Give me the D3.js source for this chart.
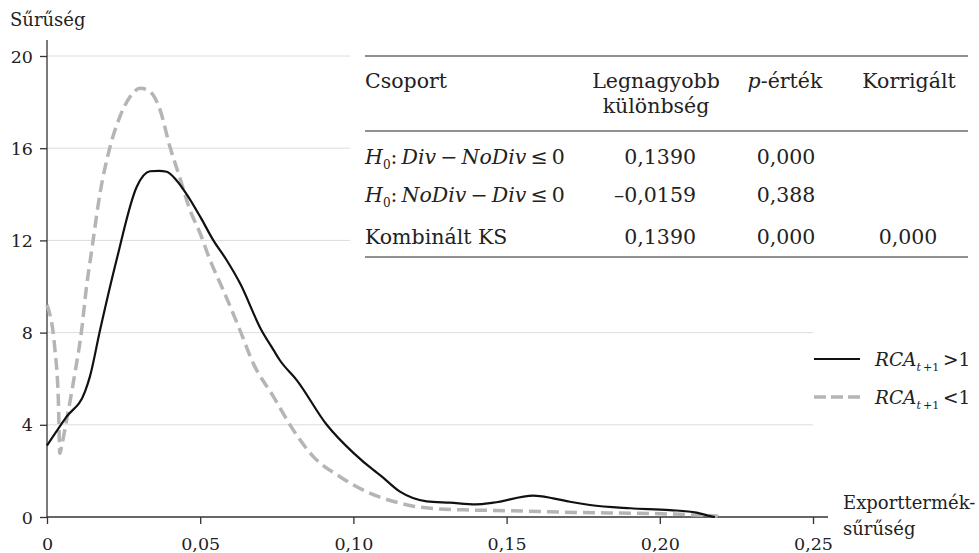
<!DOCTYPE html>
<html><head><meta charset="utf-8">
<script src="https://cdn.jsdelivr.net/npm/d3@7"></script>
<style>body{margin:0;background:#fff}svg{display:block}text{font-family:"DejaVu Serif",serif;fill:#222}</style>
</head><body><svg id="c" width="979" height="553"></svg>
<script>
// Data
const xRCAgt1 = [0, 0.0064, 0.0124, 0.014, 0.0173, 0.0227, 0.0293, 0.0336, 0.0365, 0.0391, 0.0423, 0.0456, 0.05, 0.0543, 0.0586, 0.063, 0.070, 0.0739, 0.076, 0.0815, 0.0913, 0.100, 0.1065, 0.1087, 0.1152, 0.1239, 0.1315, 0.140, 0.1457, 0.1587, 0.1652, 0.1707, 0.1772, 0.1903, 0.2033, 0.212, 0.2164, 0.218];
const yRCAgt1 = [3.1, 4.35, 5.44, 6.09, 8.1, 11.15, 14.33, 15.0, 15.02, 14.98, 14.6, 14.0, 13.03, 12.0, 11.15, 10.14, 8.1, 7.25, 6.8, 5.94, 4.0, 2.78, 2.04, 1.82, 1.1, 0.68, 0.62, 0.55, 0.62, 0.93, 0.81, 0.66, 0.52, 0.38, 0.30, 0.19, 0.04, 0.0];
const xRCAlt1 = [0, 0.0026, 0.0037, 0.0042, 0.0048, 0.007, 0.0091, 0.0113, 0.0129, 0.0146, 0.0173, 0.0206, 0.0238, 0.0271, 0.0304, 0.0336, 0.0369, 0.0401, 0.0434, 0.0467, 0.05, 0.0532, 0.0575, 0.063, 0.0673, 0.0739, 0.0804, 0.0869, 0.0956, 0.1043, 0.1087, 0.1141, 0.1196, 0.127, 0.1359, 0.152, 0.1718, 0.2033, 0.2186, 0.219];
const yRCAlt1 = [9.2, 7.25, 5.08, 2.76, 3.1, 4.64, 6.23, 8.1, 10.0, 11.58, 14.04, 16.07, 17.37, 18.23, 18.6, 18.45, 17.66, 16.07, 14.7, 13.3, 12.3, 11.15, 9.85, 8.1, 6.67, 5.22, 3.77, 2.62, 1.75, 1.1, 0.86, 0.64, 0.47, 0.36, 0.31, 0.27, 0.2, 0.13, 0.04, 0.02];
const xTicks = [0, 0.05, 0.10, 0.15, 0.20, 0.25];
const xTickLabels = ["0", "0,05", "0,10", "0,15", "0,20", "0,25"];
const yTicks = [0, 4, 8, 12, 16, 20];
const tableGroups = ["g1", "g2", "Kombinált KS"];
const tableMaxDiff = ["0,1390", "\u20130,0159", "0,1390"];
const tablePValue = ["0,000", "0,388", "0,000"];
const tableCorrected = ["", "", "0,000"];

const FONT = '"DejaVu Serif", serif';
const svg = d3.select("#c");
const x = d3.scaleLinear().domain([0, 0.25]).range([47, 813]);
const y = d3.scaleLinear().domain([0, 20]).range([517, 56]);

// gridlines
const tableLeft = 350;
svg.append("g").selectAll("line").data(yTicks.filter(d => d > 0)).join("line")
  .attr("x1", x(0)).attr("x2", d => d >= 12 ? tableLeft : x(0.25))
  .attr("y1", d => y(d)).attr("y2", d => y(d))
  .attr("stroke", "#dcdcdc").attr("stroke-width", 1);

// axes
const xAxis = d3.axisBottom(x).tickValues(xTicks).tickFormat((d, i) => xTickLabels[i]).tickSize(7).tickSizeOuter(0);
const gx = svg.append("g").attr("transform", `translate(0,${y(0)})`).call(xAxis);
gx.select(".domain").attr("d", `M${x(0)},0H828`);
const yAxis = d3.axisLeft(y).tickValues(yTicks).tickSize(7).tickSizeOuter(0);
const gy = svg.append("g").attr("transform", `translate(${x(0)},0)`).call(yAxis);
gy.select(".domain").attr("d", `M0,40V${y(0)}`);
[gx, gy].forEach(g => {
  g.selectAll(".domain, .tick line").attr("stroke", "#333").attr("stroke-width", 1.3);
  g.selectAll("text").style("font-family", FONT).style("font-size", "17.5px").attr("fill", "#222");
});
gx.selectAll("text").attr("dy", null).attr("y", 33);
gy.selectAll("text").attr("x", -14).attr("dy", "0.35em");

// lines
const line = d3.line().x(d => x(d[0])).y(d => y(d[1])).curve(d3.curveMonotoneX);
const gt = xRCAgt1.map((v, i) => [v, yRCAgt1[i]]);
const lt = xRCAlt1.map((v, i) => [v, yRCAlt1[i]]);
svg.append("path").attr("d", line(lt)).attr("fill", "none").attr("stroke", "#b5b5b5")
  .attr("stroke-width", 3.5).attr("stroke-dasharray", "12,6");
svg.append("path").attr("d", line(gt)).attr("fill", "none").attr("stroke", "#111")
  .attr("stroke-width", 2.2);

// axis labels
svg.append("text").attr("x", 10).attr("y", 26).style("font-size", "18px").text("Sűrűség");
svg.append("text").attr("x", 843).attr("y", 509).style("font-size", "18px").text("Exporttermék-");
svg.append("text").attr("x", 843).attr("y", 535).style("font-size", "18px").text("sűrűség");

// legend
const lg = svg.append("g");
lg.append("line").attr("x1", 814).attr("x2", 860).attr("y1", 359).attr("y2", 359).attr("stroke", "#111").attr("stroke-width", 2.2);
lg.append("line").attr("x1", 814).attr("x2", 860).attr("y1", 397).attr("y2", 397).attr("stroke", "#b5b5b5").attr("stroke-width", 3.5).attr("stroke-dasharray", "12,5");
[[366, ">"], [404, "<"]].forEach(([by, op]) => {
  const t = lg.append("text").attr("x", 875).attr("y", by).style("font-size", "18.5px");
  t.append("tspan").style("font-style", "italic").text("RCA");
  t.append("tspan").attr("dy", 5).style("font-size", "11px").style("font-style", "italic").text("t");
  t.append("tspan").style("font-size", "11px").text("\u2009+1");
  t.append("tspan").attr("dy", -5).text("\u2009" + op + "1");
});

// table
const tb = svg.append("g").style("font-size", "20.5px");
const tL = 365, tR = 968;
[56, 131, 257].forEach(ly => tb.append("line").attr("x1", tL).attr("x2", tR).attr("y1", ly).attr("y2", ly).attr("stroke", "#222").attr("stroke-width", 1.2));
tb.append("text").attr("x", tL).attr("y", 88).text("Csoport");
tb.append("text").attr("x", 656).attr("y", 88).attr("text-anchor", "middle").text("Legnagyobb");
tb.append("text").attr("x", 656).attr("y", 113).attr("text-anchor", "middle").text("különbség");
const ph = tb.append("text").attr("x", 785).attr("y", 88).attr("text-anchor", "middle");
ph.append("tspan").style("font-style", "italic").text("p");
ph.append("tspan").text("-érték");
tb.append("text").attr("x", 909).attr("y", 88).attr("text-anchor", "middle").text("Korrigált");
const rowY = [164, 202, 244];
function hypo(t, a, b) {
  t.append("tspan").style("font-style", "italic").text("H");
  t.append("tspan").attr("dy", 5).style("font-size", "12px").text("0");
  t.append("tspan").attr("dy", -5).text(":\u2009");
  t.append("tspan").style("font-style", "italic").text(a);
  t.append("tspan").text("\u2009\u2212\u2009");
  t.append("tspan").style("font-style", "italic").text(b);
  t.append("tspan").text("\u2009\u2264\u20090");
}
tableGroups.forEach((g, i) => {
  const t = tb.append("text").attr("x", tL).attr("y", rowY[i]);
  if (i === 0) hypo(t, "Div", "NoDiv");
  else if (i === 1) hypo(t, "NoDiv", "Div");
  else t.text(g);
  tb.append("text").attr("x", 696).attr("y", rowY[i]).attr("text-anchor", "end").text(tableMaxDiff[i]);
  tb.append("text").attr("x", 786).attr("y", rowY[i]).attr("text-anchor", "middle").text(tablePValue[i]);
  if (tableCorrected[i]) tb.append("text").attr("x", 908).attr("y", rowY[i]).attr("text-anchor", "middle").text(tableCorrected[i]);
});
</script></body></html>
